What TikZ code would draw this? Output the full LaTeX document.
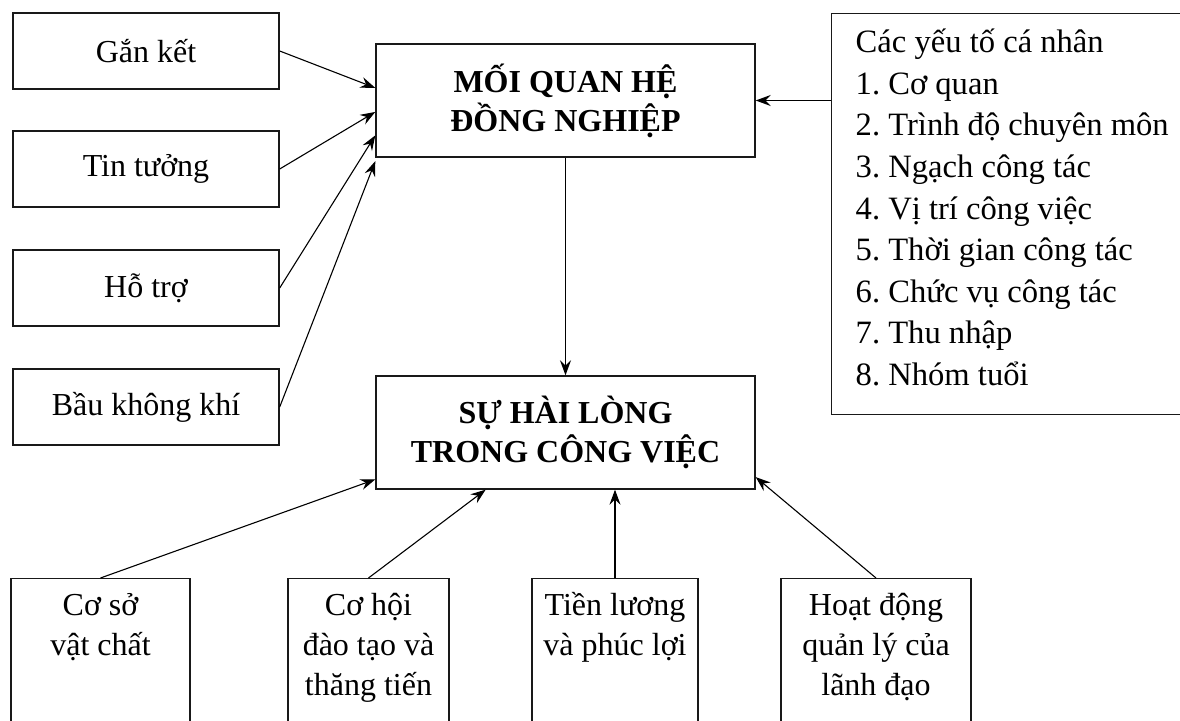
\documentclass[tikz,border=0pt]{standalone}
\usepackage{fontspec}
\setmainfont{Liberation Serif}
\usetikzlibrary{arrows.meta,calc}
\frenchspacing
\begin{document}
\begin{tikzpicture}[x=0.5pt,y=-0.5pt,
  boxline/.style={draw=black!90, line width=0.7pt},
  leftbox/.style={boxline, minimum width=133pt, minimum height=38pt, inner sep=0pt,
    font=\fontsize{16}{20.8}\selectfont},
  mainbox/.style={boxline, minimum width=189.5pt, minimum height=56.5pt, inner sep=0pt,
    align=center, font=\fontsize{16}{19.5}\selectfont\bfseries},
  botbox/.style={boxline, anchor=north, inner sep=0pt,
    font=\fontsize{16}{20}\selectfont},
  arr/.style={draw=black, line width=0.55pt, -{Stealth[length=7.5pt,width=5.5pt,inset=2.6pt]}}
]
\useasboundingbox (0,0) rectangle (1180,721);
\clip (0,0) rectangle (1180,721);

% left factors
\node[leftbox] (g1) at (146,51) {Gắn kết};
\node[leftbox] (g2) at (146,169) {Tin tưởng};
\node[leftbox] (g3) at (146,288) {Hỗ trợ};
\node[leftbox] (g4) at (146,407) {Bầu không khí};

% main boxes
\node[mainbox] (m1) at (565.5,100.5) {MỐI QUAN HỆ\\ĐỒNG NGHIỆP};
\node[mainbox] (m2) at (565.5,432.5) {SỰ HÀI LÒNG\\TRONG CÔNG VIỆC};

% personal factors
\node[boxline, anchor=north west, inner xsep=12pt, inner ysep=0pt,
  font=\fontsize{16.3}{20.8}\selectfont] (pf) at (831,13)
  {\parbox[t][200.5pt][t]{160.5pt}{\raggedright\rule{0pt}{19.5pt}Các yếu tố cá nhân\\
  1. Cơ quan\\
  2. Trình độ chuyên môn\\
  3. Ngạch công tác\\
  4. Vị trí công việc\\
  5. Thời gian công tác\\
  6. Chức vụ công tác\\
  7. Thu nhập\\
  8. Nhóm tuổi}};

% bottom factors
\node[botbox] (b1) at (100.5,578) {\parbox[t][95pt][t]{89.5pt}{\centering\rule{0pt}{18.5pt}Cơ sở\\vật chất}};
\node[botbox] (b2) at (368.5,578) {\parbox[t][95pt][t]{80.5pt}{\centering\rule{0pt}{18.5pt}Cơ hội\\đào tạo và\\thăng tiến}};
\node[botbox] (b3) at (615,578) {\parbox[t][95pt][t]{83pt}{\centering\rule{0pt}{18.5pt}Tiền lương\\và phúc lợi}};
\node[botbox] (b4) at (876,578) {\parbox[t][95pt][t]{95pt}{\centering\rule{0pt}{18.5pt}Hoạt động\\quản lý của\\lãnh đạo}};

% connectors
\draw[arr] (g1.east) -- ($(m1.north west)!0.39!(m1.south west)$);
\draw[arr] (g2.east) -- ($(m1.north west)!0.60!(m1.south west)$);
\draw[arr] (g3.east) -- ($(m1.north west)!0.805!(m1.south west)$);
\draw[arr] (g4.east) -- ($(m1.north west)!1.03!(m1.south west)$);
\draw[arr] (pf.west |- m1.east) -- (m1.east);
\draw[arr] (m1.south) -- (m2.north);
\draw[arr] (b1.north) -- ($(m2.north west)!0.91!(m2.south west)$);
\draw[arr] (b2.north) -- ($(m2.south west)!0.29!(m2.south east)$);
\draw[arr] (b3.north) -- (b3.north |- m2.south);
\draw[arr] (b4.north) -- ($(m2.north east)!0.89!(m2.south east)$);
\end{tikzpicture}
\end{document}
